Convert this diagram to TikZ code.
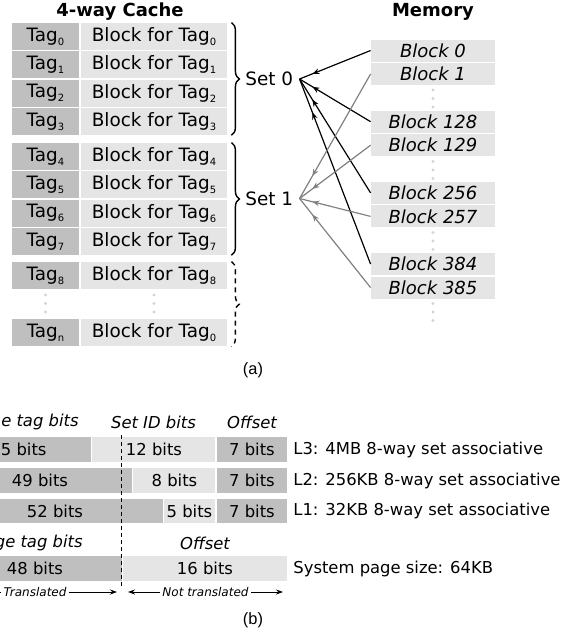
\documentclass[tikz,border=0pt]{standalone}
\usepackage{fontspec}
\setmainfont{DejaVu Sans}
\newfontfamily\captionfont{Liberation Sans}
\usetikzlibrary{arrows.meta,decorations.pathreplacing,decorations.markings}
\definecolor{tagshade}{RGB}{191,191,191}
\definecolor{blockshade}{RGB}{229,229,229}
\definecolor{dotshade}{RGB}{212,212,212}
\definecolor{linkgray}{RGB}{128,128,128}
\newcommand{\tsub}[1]{\raisebox{-0.4ex}{\fontsize{5}{5}\selectfont #1}}

\begin{document}
\begin{tikzpicture}[
    x=0.5pt, y=-0.5pt,
    every node/.style={font=\fontsize{9.2}{11}\selectfont, inner sep=0pt},
    tagcell/.style={rectangle, fill=tagshade, minimum width=33.5pt, minimum height=13.5pt},
    blockcell/.style={rectangle, fill=blockshade, minimum width=73pt, minimum height=13.5pt},
    memcell/.style={rectangle, fill=blockshade, minimum width=62pt, minimum height=11pt, font=\fontsize{9}{11}\selectfont\itshape},
    setlabel/.style={anchor=west, inner xsep=3pt},
    cachebrace/.style={decorate, decoration={brace, amplitude=4pt}, line width=0.7pt},
    setlink/.style={line width=0.6pt, postaction={decorate},
        decoration={markings, mark=at position 0.82 with {\arrow{Stealth[length=3.5pt,width=2.8pt]}}}},
    bitstext/.style={font=\fontsize{8.2}{10}\selectfont},
    bitshead/.style={font=\fontsize{8.2}{10}\selectfont\itshape},
    transtext/.style={font=\fontsize{6}{7}\selectfont\itshape, inner xsep=1pt},
    transarrow/.style={-{Stealth[length=3.5pt,width=2.5pt]}, line width=0.5pt},
    dot/.style={fill=dotshade}
]
\useasboundingbox (0,0) rectangle (574,634);
\clip (0,0) rectangle (574,634);

% (a) cache and memory
\node[font=\fontsize{9}{11}\selectfont\bfseries] (cache_title) at (120,12) {4-way Cache};
\node[font=\fontsize{9}{11}\selectfont\bfseries] (mem_title) at (433,12) {Memory};

\foreach \i/\y in {0/36.5,1/64.8,2/93.1,3/121.4,4/156.5,5/184.8,6/213.1,7/241.4,8/275.5} {
    \node[tagcell] (tag_\i) at (45.5,\y) {Tag\tsub{\i}};
    \node[blockcell] (blk_\i) at (154,\y) {Block for Tag\tsub{\i}};
}
\node[tagcell] (tag_n) at (45.5,332.5) {Tag\tsub{n}};
\node[blockcell] (blk_n) at (154,332.5) {Block for Tag\tsub{0}};
\foreach \y in {295,303.5,312} {
    \fill[dot] (45.5,\y) circle (0.8pt);
    \fill[dot] (154,\y) circle (0.8pt);
}

\draw[cachebrace] ([xshift=2pt]blk_0.north east) -- ([xshift=2pt]blk_3.south east);
\draw[cachebrace] ([xshift=2pt]blk_4.north east) -- ([xshift=2pt]blk_7.south east);
\draw[cachebrace, dashed, dash pattern=on 2.5pt off 2pt] ([xshift=2pt]blk_8.north east) -- ([xshift=2pt]blk_n.south east);
\node[setlabel] (set_0) at (239,79) {Set 0};
\node[setlabel] (set_1) at (239,198.5) {Set 1};

\foreach \k/\y in {0/50.5,1/74,128/121.7,129/145.2,256/192.9,257/216.4,384/264.1,385/287.6}
    \node[memcell] (mem_\k) at (433,\y) {Block \k};
\foreach \y in {90,98.5,107,161.5,170,178.5,232.5,241,249.5,303.5,312,320.5}
    \fill[dot] (433,\y) circle (0.8pt);

\foreach \k in {0,128,256,384}
    \draw[setlink] (mem_\k.west) -- (set_0.east);
\foreach \k in {1,129,257,385}
    \draw[setlink, linkgray] (mem_\k.west) -- (set_1.east);

\node[font=\fontsize{8.2}{10}\selectfont\captionfont] (cap_a) at (253,370) {(a)};

% (b) address bits
\fill[tagshade] (-360,437) rectangle (91,462);
\fill[blockshade] (92,437) rectangle (215,462);
\fill[tagshade] (217,437) rectangle (287,462);
\fill[tagshade] (-360,468) rectangle (132,493);
\fill[blockshade] (133,468) rectangle (215,493);
\fill[tagshade] (217,468) rectangle (287,493);
\fill[tagshade] (-360,499) rectangle (163,523);
\fill[blockshade] (164,499) rectangle (215,523);
\fill[tagshade] (217,499) rectangle (287,523);
\fill[tagshade] (-360,556) rectangle (122,581);
\fill[blockshade] (123,556) rectangle (287,581);

\node[bitshead, anchor=east] (cache_tag_head) at (79,422) {Cache tag bits};
\node[bitshead] (set_id_head) at (153.5,422) {Set ID bits};
\node[bitshead] (offset_head) at (252,422) {Offset};
\node[bitshead, anchor=east] (page_tag_head) at (83,543) {Page tag bits};
\node[bitshead] (page_offset_head) at (205,543) {Offset};

\node[bitstext] (l3_tag) at (18.5,449.5) {45 bits};
\node[bitstext] (l3_set) at (154,449.5) {12 bits};
\node[bitstext] (l3_off) at (252,449.5) {7 bits};
\node[bitstext] (l2_tag) at (40,480.5) {49 bits};
\node[bitstext] (l2_set) at (174.5,480.5) {8 bits};
\node[bitstext] (l2_off) at (252,480.5) {7 bits};
\node[bitstext] (l1_tag) at (55,511) {52 bits};
\node[bitstext] (l1_set) at (189.5,511) {5 bits};
\node[bitstext] (l1_off) at (252,511) {7 bits};
\node[bitstext] (page_tag) at (35,568.5) {48 bits};
\node[bitstext] (page_off) at (205,568.5) {16 bits};

\node[bitstext, anchor=west] (l3_label) at (293,449.5) {L3: 4MB 8-way set associative};
\node[bitstext, anchor=west] (l2_label) at (293,480.5) {L2: 256KB 8-way set associative};
\node[bitstext, anchor=west] (l1_label) at (293,511) {L1: 32KB 8-way set associative};
\node[bitstext, anchor=west] (page_label) at (293,568.5) {System page size: 64KB};

\draw[dashed, dash pattern=on 2pt off 1.5pt, line width=0.5pt] (122,435) -- (122,587);

\node[transtext] (transl) at (35,592) {Translated};
\coordinate (transl_left) at (-60,592);
\coordinate (transl_right) at (117,592);
\draw[transarrow] (transl.east) -- (transl_right);
\draw[transarrow] (transl.west) -- (transl_left);
\node[transtext] (not_transl) at (205.5,592) {Not translated};
\coordinate (not_left) at (128,592);
\coordinate (not_right) at (283,592);
\draw[transarrow] (not_transl.west) -- (not_left);
\draw[transarrow] (not_transl.east) -- (not_right);

\node[font=\fontsize{8.2}{10}\selectfont\captionfont] (cap_b) at (253,620) {(b)};
\end{tikzpicture}
\end{document}
